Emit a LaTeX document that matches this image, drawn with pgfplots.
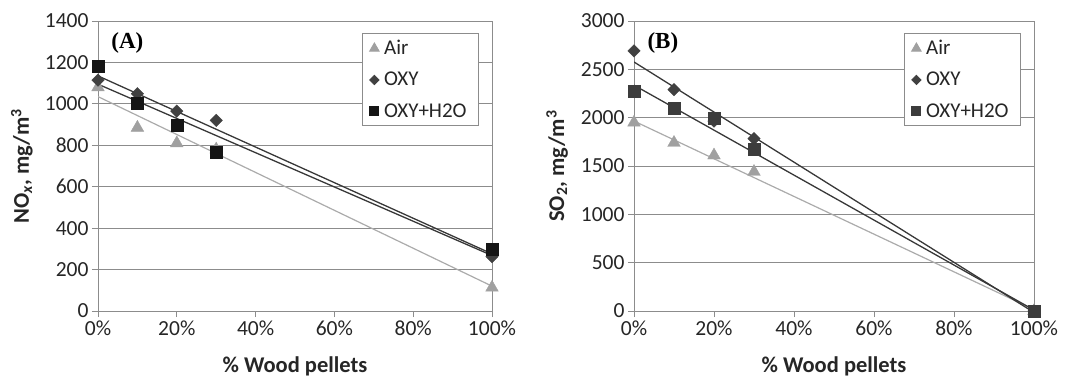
\documentclass[border=0pt]{standalone}
\usepackage{fontspec}
\setmainfont{Carlito}
\newfontfamily\timesfont{Liberation Serif}
\usepackage{pgfplots}
\pgfplotsset{compat=1.18}
\definecolor{airc}{HTML}{A0A0A0}
\definecolor{oxyc}{HTML}{404040}
\definecolor{h2oA}{HTML}{151515}
\definecolor{h2oB}{HTML}{3C3C3C}
\definecolor{gridc}{HTML}{8C8C8C}
\definecolor{airline}{HTML}{ABABAB}
\definecolor{darkline}{HTML}{383838}
\pgfplotsset{
 myax/.style={
  scale only axis, height=290pt, xmin=0, xmax=100, ymin=0,
  xtick={0,20,40,60,80,100},
  xticklabels={0\%,20\%,40\%,60\%,80\%,100\%},
  tick align=outside, major tick length=6pt,
  xtick pos=left, ytick pos=left,
  tick style={gridc, line width=0.8pt},
  axis line style={gridc, line width=0.8pt},
  ymajorgrids, grid style={gridc, line width=0.8pt},
  tick label style={font=\fontsize{21.5}{26}\selectfont, text=black!85},
  /pgf/number format/1000 sep={},
  /pgf/number format/assume math mode=true,
  label style={font=\bfseries\fontsize{22.5}{26}\selectfont, text=black!85},
  xlabel={\% Wood pellets},
  xlabel style={at={(axis description cs:0.5,-0.19)}, anchor=center},
  legend style={at={(1,1)}, anchor=north east, xshift=-13pt, yshift=-12pt,
    draw=gridc, line width=0.8pt, font=\fontsize{21}{25}\selectfont, row sep=12pt,
    inner xsep=7pt, inner ysep=5pt, text=black!85,
    nodes={inner xsep=5pt}},
  legend cell align=left,
  legend image post style={scale=0.75},
 },
 airm/.style={only marks, mark=triangle*, mark size=7.3pt, color=airc},
 oxym/.style={only marks, mark=square*, mark size=4.4pt, mark options={rotate=45}, color=oxyc},
}
\begin{document}
\begin{tikzpicture}[x=1pt,y=1pt]
\path[use as bounding box] (0,0) rectangle (1070,376);
\begin{axis}[myax, at={(98pt,65pt)}, anchor=south west, width=394pt,
  ymax=1400, ytick={0,200,...,1400},
  ylabel={NO\textsubscript{\textit{x}}, mg/m\textsuperscript{3}},
  ylabel style={at={(axis description cs:-0.193,0.5)}, anchor=center}]
\addplot[airm] coordinates {(0,1080) (10,885) (20,810) (30,780) (100,113)};
\addlegendentry{Air}
\addplot[oxym] coordinates {(0,1115) (10,1049) (20,965) (30,920) (100,262)};
\addlegendentry{OXY}
\addplot[only marks, mark=square*, mark size=6pt, color=h2oA] coordinates {(0,1181) (10,1004) (20,895) (30,767) (100,300)};
\addlegendentry{OXY+H2O}
\addplot[airline, line width=1.2pt, forget plot] coordinates {(0,1035) (100,120)};
\addplot[darkline, line width=1.3pt, forget plot] coordinates {(0,1135) (100,276)};
\addplot[darkline, line width=1.3pt, forget plot] coordinates {(0,1095) (100,268)};
\node[anchor=west, font=\timesfont\bfseries\fontsize{23}{27}\selectfont] at (axis description cs:0.025,0.924) {(A)};
\end{axis}
\begin{axis}[myax, at={(634pt,65pt)}, anchor=south west, width=400pt,
  ymax=3000, ytick={0,500,...,3000},
  ylabel={SO\textsubscript{2}, mg/m\textsuperscript{3}},
  ylabel style={at={(axis description cs:-0.1925,0.5)}, anchor=center}]
\addplot[airm] coordinates {(0,1950) (10,1740) (20,1610) (30,1440) (100,0)};
\addlegendentry{Air}
\addplot[oxym] coordinates {(0,2690) (10,2290) (20,1965) (30,1783) (100,0)};
\addlegendentry{OXY}
\addplot[only marks, mark=square*, mark size=6pt, color=h2oB] coordinates {(0,2276) (10,2093) (20,1990) (30,1670) (100,0)};
\addlegendentry{OXY+H2O}
\addplot[airline, line width=1.2pt, forget plot] coordinates {(0,1965) (100,15)};
\addplot[darkline, line width=1.3pt, forget plot] coordinates {(0,2576) (100,-15)};
\addplot[darkline, line width=1.3pt, forget plot] coordinates {(0,2336) (100,10)};
\node[anchor=west, font=\timesfont\bfseries\fontsize{23}{27}\selectfont] at (axis description cs:0.025,0.924) {(B)};
\end{axis}
\end{tikzpicture}
\end{document}
